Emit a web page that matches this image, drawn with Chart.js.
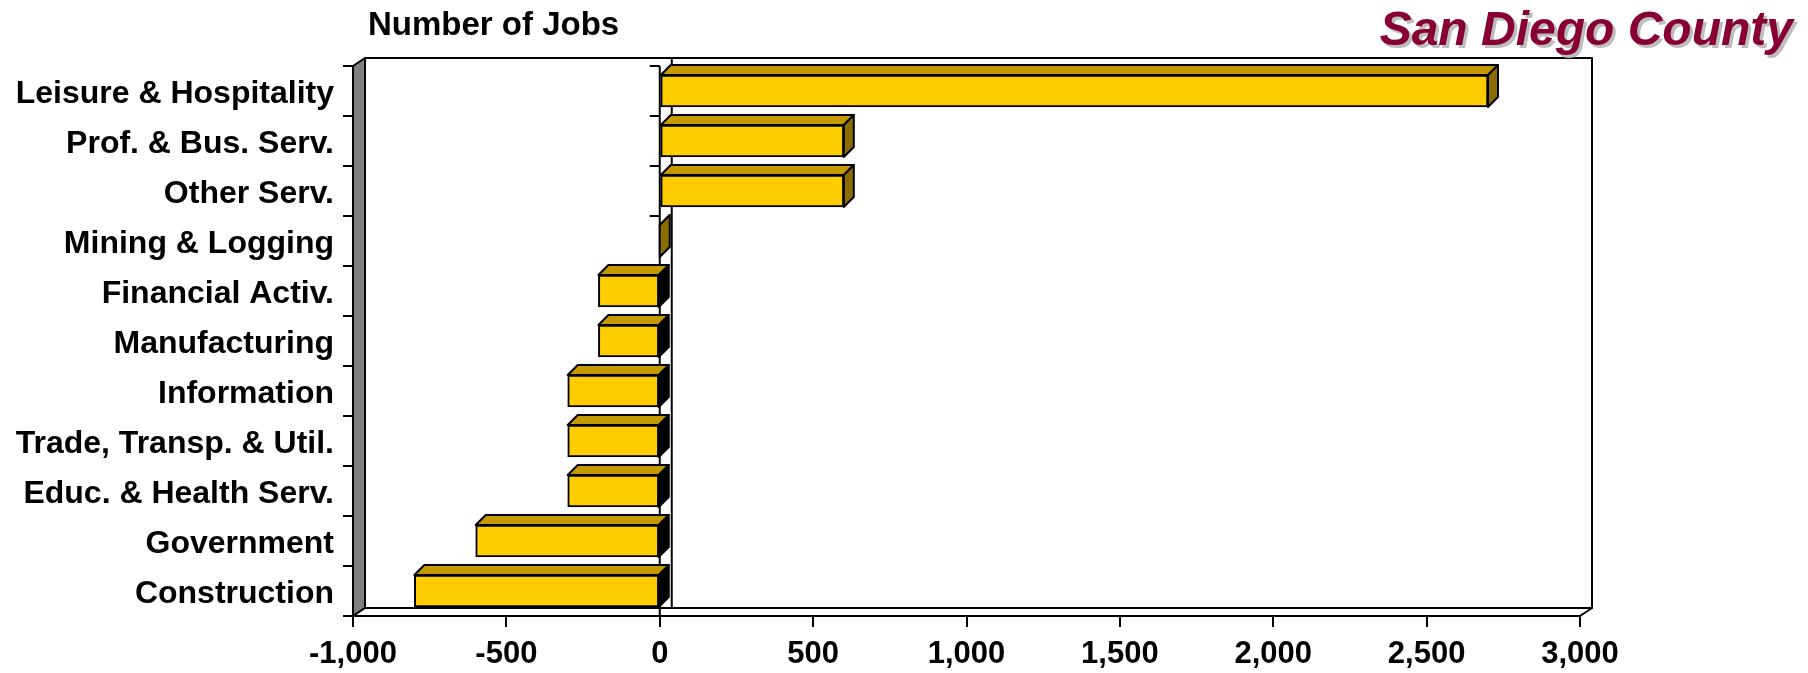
<!DOCTYPE html>
<html>
<head>
<meta charset="utf-8">
<script src="https://cdn.jsdelivr.net/npm/chart.js@4"></script>
<style>
body{margin:0;background:#fff}
#wrap{width:1808px;height:673px;position:relative}
</style>
</head>
<body>
<div id="wrap"><canvas id="c"></canvas></div>
<script>
const categories=['Leisure & Hospitality','Prof. & Bus. Serv.','Other Serv.','Mining & Logging','Financial Activ.','Manufacturing','Information','Trade, Transp. & Util.','Educ. & Health Serv.','Government','Construction'];
const values=[2700,600,600,0,-200,-200,-300,-300,-300,-600,-800];
const xTicks=[-1000,-500,0,500,1000,1500,2000,2500,3000];
const axisTitle='Number of Jobs';
const regionTitle='San Diego County';

const FONT='"Liberation Sans", Arial, sans-serif';
const WX=12,WY=-8;   // wall depth
const BX=10,BY=-10;  // bar depth

function poly(ctx,pts,fill){
  ctx.beginPath();
  ctx.moveTo(pts[0][0],pts[0][1]);
  pts.slice(1).forEach(p=>ctx.lineTo(p[0],p[1]));
  ctx.closePath();
  if(fill){ctx.fillStyle=fill;ctx.fill();}
  ctx.stroke();
}

const walls={id:'walls',beforeDraw(chart){
  const {ctx,chartArea:a,scales:{x}}=chart;
  const x0=x.getPixelForValue(0);
  ctx.save();
  ctx.lineWidth=2;ctx.strokeStyle='#000';ctx.lineJoin='round';
  ctx.fillStyle='#fff';
  ctx.fillRect(a.left+WX,a.top+WY,a.width,a.height);
  ctx.strokeRect(a.left+WX,a.top+WY,a.width,a.height);
  poly(ctx,[[a.left,a.top],[a.left+WX,a.top+WY],[a.left+WX,a.bottom+WY],[a.left,a.bottom]],'#808080');
  poly(ctx,[[a.left,a.bottom],[a.left+WX,a.bottom+WY],[a.right+WX,a.bottom+WY],[a.right,a.bottom]],'#fff');
  // zero lines, back and front, with category ticks
  ctx.beginPath();
  ctx.moveTo(x0+WX,a.top+WY);ctx.lineTo(x0+WX,a.bottom+WY);
  ctx.moveTo(x0,a.top);ctx.lineTo(x0,a.bottom);
  for(let i=0;i<=categories.length;i++){
    const ty=a.top+i*a.height/categories.length;
    ctx.moveTo(x0-10,ty);ctx.lineTo(x0,ty);
  }
  ctx.stroke();
  ctx.restore();
}};

const depth={id:'depth',beforeDatasetsDraw(chart){
  const ctx=chart.ctx;
  ctx.save();
  ctx.lineWidth=2;ctx.strokeStyle='#000';ctx.lineJoin='round';
  chart.getDatasetMeta(0).data.forEach((b,i)=>{
    const h=b.height,l=Math.min(b.x,b.base),r=Math.max(b.x,b.base),t=b.y-h/2;
    poly(ctx,[[l,t],[l+BX,t+BY],[r+BX,t+BY],[r,t]],'#C49A00');
    poly(ctx,[[r,t],[r+BX,t+BY],[r+BX,t+h+BY],[r,t+h]],values[i]<0?'#000':'#8B6C00');
  });
  ctx.restore();
}};

const titles={id:'titles',afterDraw(chart){
  const ctx=chart.ctx;
  ctx.save();
  ctx.textBaseline='alphabetic';
  ctx.font='bold 33px '+FONT;
  ctx.fillStyle='#000';ctx.textAlign='left';
  ctx.fillText(axisTitle,368,35);
  ctx.font='italic bold 48px '+FONT;
  ctx.textAlign='right';
  ctx.fillStyle='#bdbdbd';
  ctx.fillText(regionTitle,1796,48);
  ctx.fillStyle='#880033';
  ctx.fillText(regionTitle,1793,45);
  ctx.restore();
}};

new Chart(document.getElementById('c'),{
  type:'bar',
  data:{labels:categories,datasets:[{
    data:values,
    backgroundColor:'#FFCC00',
    borderColor:'#000',
    borderWidth:2,
    borderSkipped:false,
    barThickness:32
  }]},
  options:{
    indexAxis:'y',
    responsive:true,
    maintainAspectRatio:false,
    animation:false,
    layout:{padding:{left:0,right:228,top:66,bottom:0}},
    plugins:{legend:{display:false},tooltip:{enabled:false}},
    scales:{
      x:{
        min:-1000,max:3000,
        afterBuildTicks:s=>{s.ticks=xTicks.map(v=>({value:v}));},
        afterFit:s=>{s.height=57;},
        ticks:{color:'#000',padding:9,font:{family:FONT,size:31,weight:'bold'},
          maxRotation:0,autoSkip:false,callback:v=>v.toLocaleString('en-US')},
        grid:{drawOnChartArea:false,drawTicks:true,tickLength:11,color:'#000',lineWidth:2},
        border:{display:true,color:'#000',width:2}
      },
      y:{
        afterFit:s=>{s.width=353;},
        ticks:{color:'#000',padding:9,labelOffset:3,autoSkip:false,font:{family:FONT,size:32,weight:'bold'}},
        grid:{drawOnChartArea:false,drawTicks:true,tickLength:10,color:'#000',lineWidth:2,offset:true},
        border:{display:true,color:'#000',width:2}
      }
    }
  },
  plugins:[walls,depth,titles]
});
</script>
</body>
</html>
